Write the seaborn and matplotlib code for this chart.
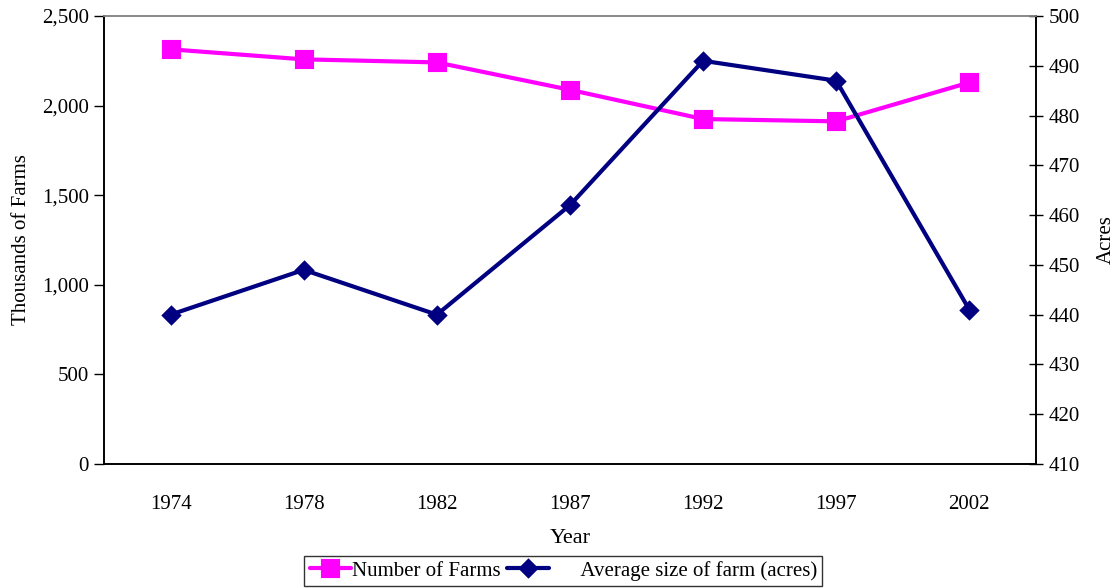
import matplotlib
matplotlib.use("Agg")
import matplotlib.pyplot as plt
import matplotlib.ticker as mticker
import seaborn as sns
import numpy as np

# data
years = ["1974", "1978", "1982", "1987", "1992", "1997", "2002"]
farms_thousands = [2314, 2258, 2241, 2088, 1925, 1912, 2129]
avg_size_acres = [440, 449, 440, 462, 491, 487, 441]

sns.set_theme(style="white")
plt.rcParams["font.family"] = ["Liberation Serif", "DejaVu Serif"]
plt.rcParams["text.color"] = "black"
plt.rcParams["axes.labelcolor"] = "black"

fig = plt.figure(figsize=(11.2, 5.88), dpi=100)
ax = fig.add_axes([0.0929, 0.2109, 0.832, 0.7619])
ax2 = ax.twinx()

sns.pointplot(x=years, y=farms_thousands, ax=ax, color="#FF00FF", markers="s",
              markersize=11, linewidth=3, errorbar=None, label="Number of Farms")
sns.pointplot(x=years, y=avg_size_acres, ax=ax2, color="#000080", markers="D",
              markersize=8, linewidth=3, errorbar=None,
              label="Average size of farm (acres)")

for a in (ax, ax2):
    if a.get_legend() is not None:
        a.get_legend().remove()

ax.set_xlim(-0.5, len(years) - 0.5)
ax.set_ylim(0, 2500)
ax.yaxis.set_major_locator(mticker.MultipleLocator(500))
ax.yaxis.set_major_formatter(mticker.StrMethodFormatter("{x:,.0f}"))
ax2.set_ylim(410, 500)
ax2.yaxis.set_major_locator(mticker.MultipleLocator(10))

# x ticks between categories, labels centred
ax.set_xticks(np.arange(len(years)))
ax.set_xticklabels(years)
ax.xaxis.set_minor_locator(mticker.FixedLocator(np.arange(len(years) + 1) - 0.5))
ax.tick_params(axis="x", which="major", length=0, pad=22, labelsize=15, colors="black")
ax.tick_params(axis="x", which="minor", length=7, width=1, direction="out", color="#333333")
ax.tick_params(axis="y", length=7, width=1, direction="out", labelsize=15,
               colors="black", pad=4)
ax2.tick_params(axis="y", length=10, width=1, direction="inout", labelsize=15,
                colors="black", pad=4)
for t in ax.get_yticklines() + ax2.get_yticklines():
    t.set_color("#333333")

for a in (ax, ax2):
    for s in a.spines.values():
        s.set_color("black")
        s.set_linewidth(1.2)
    a.spines["top"].set_color("#888888")
    a.grid(False)
    a.set_xlabel("")

ax.set_ylabel("Thousands of Farms", fontsize=15, labelpad=8, color="black")
ax2.set_ylabel("Acres", fontsize=15, labelpad=12, color="black")
ax.set_xlabel("Year", fontsize=16, labelpad=11, color="black")

h1, _ = ax.get_legend_handles_labels()
h2, _ = ax2.get_legend_handles_labels()
leg = fig.legend(h1[:1] + h2[:1],
                 ["Number of Farms", "      Average size of farm (acres)"],
                 loc="lower center", bbox_to_anchor=(0.503, 0.0), ncol=2,
                 fontsize=15, frameon=True, fancybox=False, edgecolor="black",
                 handlelength=2.0, handletextpad=0.05, columnspacing=0.3,
                 borderpad=0.25, borderaxespad=0.1)
leg.get_frame().set_linewidth(1.0)
for txt in leg.get_texts():
    txt.set_color("black")

fig.savefig("out.png", dpi=100, facecolor="white")
